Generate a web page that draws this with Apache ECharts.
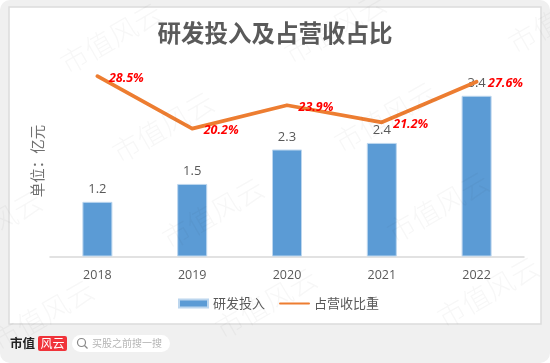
<!DOCTYPE html>
<html><head><meta charset="utf-8">
<style>html,body{margin:0;padding:0;background:#fff}#c{width:550px;height:363px}</style>
<script src="https://cdn.jsdelivr.net/npm/echarts@6/dist/echarts.min.js"></script></head>
<body><div id="c"></div>
<script>
const categories=['2018','2019','2020','2021','2022'];
const rdSpend=[1.16,1.54,2.27,2.41,3.41];
const revenueShare=[28.5,20.2,23.9,21.2,27.6];
const titleText='研发投入及占营收占比';
const unitText='单位：亿元';
const markCenters=[[111,38],[163,127],[213,213],[266,303],[335,28],[385,117],[438,207],[488,292],[559,18],[-9,226],[43,315],[-61,137]];
const cjk='"Noto Sans CJK SC","Noto Sans",sans-serif';
const latin='"Open Sans","Noto Sans",sans-serif';
const chart=echarts.init(document.getElementById('c'),null,{renderer:'canvas'});
const graphics=[
 {type:'rect',z:-10,silent:true,shape:{x:0,y:0,width:550,height:363,r:[10,10,10,10]},style:{fill:'#f0f0f0'}},
 {type:'rect',z:-9,silent:true,shape:{x:9,y:7,width:532,height:317},style:{fill:'#fff',stroke:'#dcdcdc',lineWidth:1.5}},
 {type:'text',z:5,silent:true,x:37,y:161,rotation:Math.PI/2,style:{text:unitText,font:'14.5px '+cjk,fill:'#707070',align:'center',verticalAlign:'middle'}},
 {type:'text',z:5,silent:true,x:10,y:343,style:{text:'市值',font:'bold 12.5px '+cjk,fill:'#222',verticalAlign:'middle'}},
 {type:'rect',z:5,silent:true,shape:{x:38,y:336,width:29,height:15,r:2},style:{fill:'#f0333a'}},
 {type:'text',z:6,silent:true,x:52.5,y:343.5,style:{text:'风云',font:'12px '+cjk,fill:'#fff',align:'center',verticalAlign:'middle'}},
 {type:'rect',z:5,silent:true,shape:{x:72,y:335,width:98,height:17,r:8.5},style:{fill:'#fff'}},
 {type:'circle',z:6,silent:true,shape:{cx:81.5,cy:342.5,r:4},style:{fill:'none',stroke:'#888',lineWidth:1.2}},
 {type:'line',z:6,silent:true,shape:{x1:84.5,y1:345.5,x2:87.5,y2:348.5},style:{stroke:'#888',lineWidth:1.2}},
 {type:'text',z:6,silent:true,x:92,y:343.5,style:{text:'买股之前搜一搜',font:'10px '+cjk,fill:'#b4b4b4',verticalAlign:'middle'}}
];
markCenters.forEach(p=>graphics.push({type:'text',z:100,silent:true,x:p[0],y:p[1],rotation:Math.PI/6,
 style:{text:'市值风云',font:'200 28px '+cjk,fill:'rgba(60,60,60,0.04)',align:'center',verticalAlign:'middle'}}));
chart.setOption({
 animation:false,
 backgroundColor:'transparent',
 title:{text:titleText,left:'center',top:16,itemGap:0,textStyle:{fontFamily:cjk,fontSize:23.5,fontWeight:'bold',color:'#5a5a5a'}},
 grid:{left:50,width:474,top:35,height:221.5},
 legend:{bottom:48,left:173,itemGap:14,itemWidth:29,itemHeight:8,textStyle:{fontFamily:cjk,fontSize:13,color:'#595959'},
  data:[{name:'研发投入',icon:'rect'},{name:'占营收比重',itemStyle:{color:'transparent',borderColor:'transparent',borderWidth:0}}]},
 xAxis:{type:'category',data:categories,axisTick:{show:false},axisLine:{lineStyle:{color:'#d9d9d9',width:1.5}},
  axisLabel:{margin:12,fontFamily:latin,fontSize:12.5,color:'#595959'}},
 yAxis:[{type:'value',min:0,max:4.7,show:false},{type:'value',min:0,max:35,show:false}],
 series:[
  {name:'研发投入',type:'bar',data:rdSpend,barWidth:30,itemStyle:{color:'#5b9bd5',borderColor:'#bcd6ee',borderWidth:1},
   label:{show:true,position:'top',distance:6,fontFamily:latin,fontSize:13,color:'#595959',formatter:p=>p.value.toFixed(1)}},
  {name:'占营收比重',type:'line',yAxisIndex:1,z:4,data:revenueShare,symbol:'circle',symbolSize:1,
   lineStyle:{color:'#ed7d31',width:3.8,cap:'round',join:'round'},itemStyle:{color:'#ed7d31'},
   label:{show:true,position:'right',distance:11,offset:[0,2],fontFamily:latin,fontSize:12.5,fontWeight:'bold',fontStyle:'italic',color:'#ff0000',formatter:p=>p.value.toFixed(1)+'%'}}
 ],
 graphic:graphics
});
</script></body></html>
